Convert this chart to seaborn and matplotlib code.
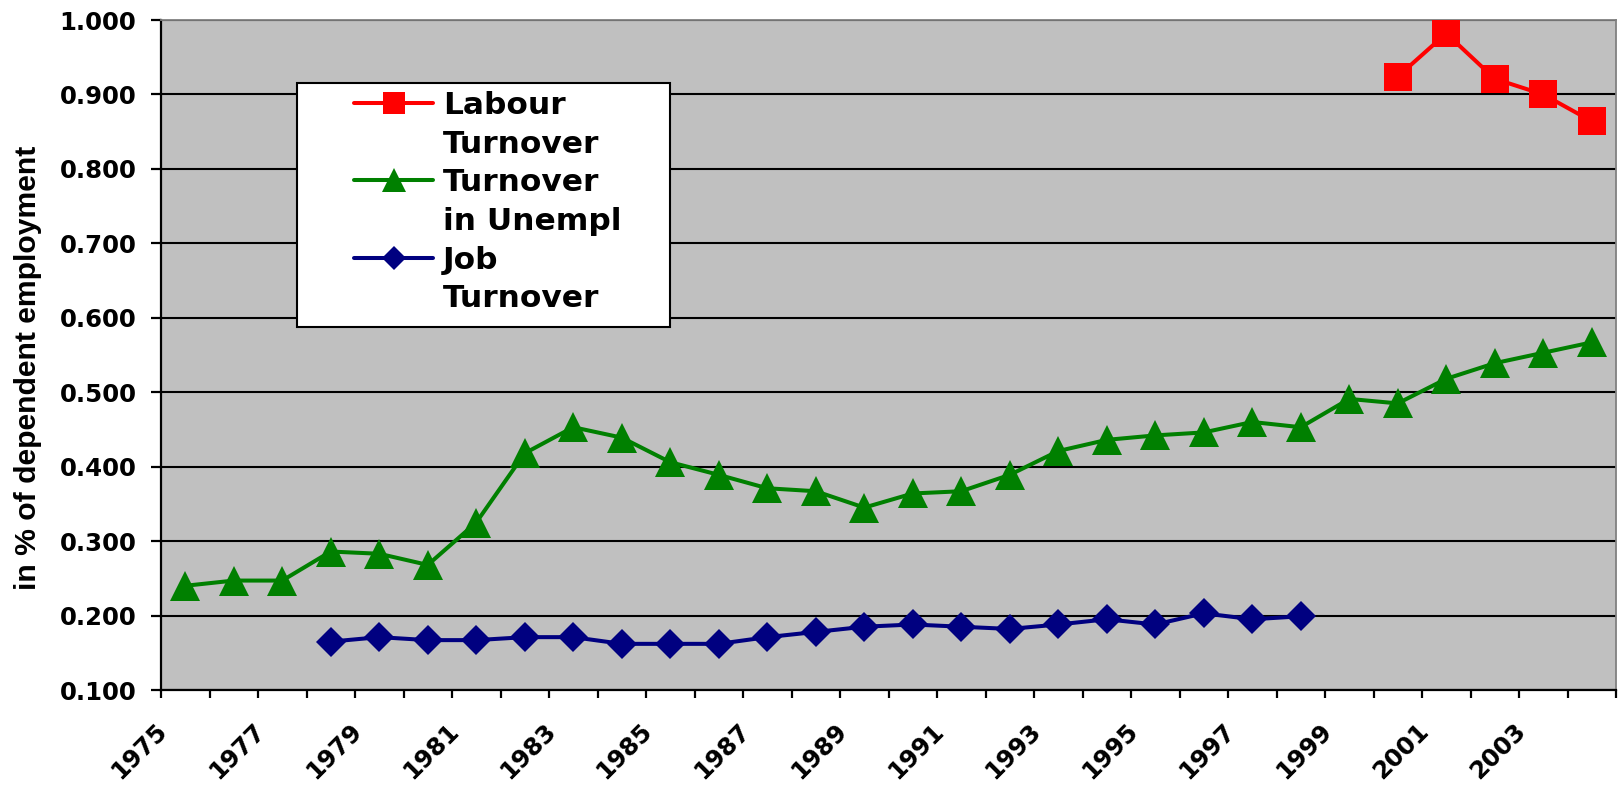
import numpy as np
import matplotlib
matplotlib.use("Agg")
import matplotlib.pyplot as plt
import matplotlib.transforms as mtransforms
from matplotlib.lines import Line2D
from matplotlib.patches import Rectangle
import seaborn as sns

# ---------------- data ----------------
years = list(range(1975, 2005))
unempl_turnover = [0.240, 0.247, 0.247, 0.286, 0.283, 0.268, 0.325, 0.418, 0.453, 0.439,
                   0.406, 0.389, 0.371, 0.367, 0.345, 0.364, 0.367, 0.389, 0.421, 0.436,
                   0.442, 0.446, 0.460, 0.453, 0.491, 0.485, 0.518, 0.539, 0.553, 0.567]
job_years = list(range(1978, 1999))
job_turnover = [0.165, 0.171, 0.167, 0.167, 0.171, 0.171, 0.162, 0.162, 0.162, 0.171,
                0.178, 0.185, 0.188, 0.185, 0.182, 0.188, 0.195, 0.188, 0.203, 0.195, 0.199]
labour_years = list(range(2000, 2005))
labour_turnover = [0.924, 0.982, 0.921, 0.900, 0.864]

y_ticks = [0.1, 0.2, 0.3, 0.4, 0.5, 0.6, 0.7, 0.8, 0.9, 1.0]
x_label_years = list(range(1975, 2004, 2))
y_title = "in % of dependent employment"
legend_text = [["Labour", "Turnover"], ["Turnover", "in Unempl"], ["Job", "Turnover"]]

RED, GREEN, NAVY = "#FF0000", "#008000", "#000080"

# ---------------- style ----------------
sns.set_style("white")
plt.rcParams["font.family"] = ["DejaVu Sans"]
plt.rcParams["font.weight"] = "bold"
for k in ["text.color", "axes.labelcolor", "xtick.color", "ytick.color"]:
    plt.rcParams[k] = "black"

W, H = 1623, 788
fig = plt.figure(figsize=(W / 100, H / 100), dpi=100)
ax = fig.add_axes([161 / W, 1 - 690 / H, 1455 / W, 670 / H])
ax.set_facecolor("#C0C0C0")
ax.set_axisbelow(True)
ax.yaxis.grid(True, color="black", lw=1.5)
ax.xaxis.grid(False)

LW = 2.9
sns.lineplot(x=years, y=unempl_turnover, ax=ax, color=GREEN, lw=LW,
             marker="^", markersize=21, markeredgewidth=0, sort=False, zorder=3)
sns.lineplot(x=job_years, y=job_turnover, ax=ax, color=NAVY, lw=LW,
             marker="D", markersize=15.3, markeredgewidth=0, sort=False, zorder=3)
sns.lineplot(x=labour_years, y=labour_turnover, ax=ax, color=RED, lw=LW,
             marker="s", markersize=19.5, markeredgewidth=0, sort=False, zorder=3)

ax.set_xlim(1974.5, 2004.5)
ax.set_ylim(0.1, 1.0)

# spines
for s in ["left", "bottom"]:
    ax.spines[s].set_color("black")
    ax.spines[s].set_linewidth(1.6)
for s in ["top", "right"]:
    ax.spines[s].set_color("#808080")
    ax.spines[s].set_linewidth(1.3)

# y axis
ax.set_yticks(y_ticks)
ax.set_yticklabels([f"{v:.3f}" for v in y_ticks])
ax.tick_params(axis="y", length=7.2, width=1.6, color="black", pad=10.5,
               labelsize=17.6, labelcolor="black", direction="out", left=True)

# x axis
ax.set_xticks(x_label_years)
ax.set_xticklabels([str(y) for y in x_label_years], rotation=45, ha="right",
                   va="top", rotation_mode="anchor")
ax.set_xticks(np.arange(1974.5, 2005.0, 1.0), minor=True)
ax.tick_params(axis="x", which="major", length=0, pad=20.5, labelsize=17.6,
               labelcolor="black", bottom=True)
ax.tick_params(axis="x", which="minor", length=6, width=1.6, color="black",
               direction="out", bottom=True)
offset = mtransforms.ScaledTranslation(-30 / 100, 0, fig.dpi_scale_trans)
for lab in ax.get_xticklabels():
    lab.set_transform(lab.get_transform() + offset)

ax.set_xlabel("")
ax.set_ylabel(y_title, fontsize=21.7, fontfamily="Liberation Sans", fontweight="bold",
              color="black")
ax.yaxis.set_label_coords(-0.0821, 0.481)

# legend box
fig.add_artist(Rectangle((297 / W, 1 - 327 / H), 373 / W, 244 / H, transform=fig.transFigure,
                         facecolor="white", edgecolor="black", lw=1.5, zorder=1))
handles, labels = [], []
for (first, second), col, mk, ms in zip(legend_text, [RED, GREEN, NAVY], ["s", "^", "D"],
                                        [19.5, 21, 15.3]):
    handles.append(Line2D([], [], color=col, lw=LW, marker=mk, markersize=ms, markeredgewidth=0))
    labels.append(first)
    handles.append(Line2D([], [], color="none", lw=0))
    labels.append(second)
leg = fig.legend(handles, labels, loc="upper left", bbox_to_anchor=(354 / W, 1 - 91 / H),
                 bbox_transform=fig.transFigure, frameon=False, borderpad=0, borderaxespad=0,
                 handlelength=2.53, handletextpad=0.32, labelspacing=0.31,
                 markerscale=0.8, prop={"weight": "bold", "size": 22.5})
for t in leg.get_texts():
    t.set_color("black")
leg.set_zorder(5)

fig.savefig("out.png", dpi=100)
